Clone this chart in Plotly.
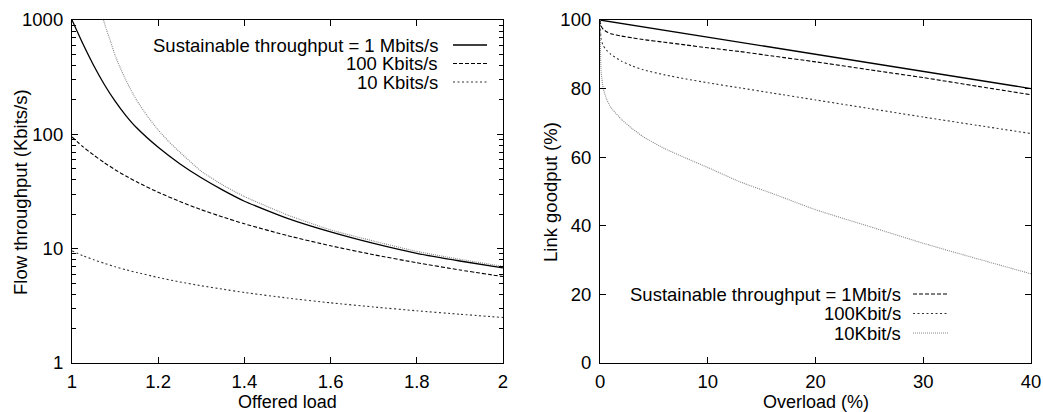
import plotly.graph_objects as go

# ---------------- Left panel data ----------------
load = [1.0, 1.025, 1.05, 1.075, 1.1, 1.125, 1.15, 1.2, 1.25, 1.3, 1.35, 1.4,
        1.5, 1.6, 1.7, 1.8, 1.9, 2.0]
tput_1m = [1000, 622, 402, 273, 195, 146, 114, 77, 55.4, 41.7, 32.5, 26.0,
           18.4, 14.0, 11.1, 9.1, 7.8, 6.8]
tput_100k = [95, 78, 66, 56.5, 49, 43.2, 38.4, 31.1, 25.9, 21.9, 18.9, 16.5,
             13.0, 10.6, 8.85, 7.53, 6.51, 5.7]
tput_10k = [9.56, 8.7, 8.0, 7.44, 6.95, 6.54, 6.19, 5.6, 5.12, 4.74, 4.42, 4.14,
            3.70, 3.36, 3.09, 2.86, 2.67, 2.5]
load_limit = [1.07, 1.08, 1.09, 1.1, 1.11, 1.12, 1.13, 1.14, 1.15, 1.175, 1.2,
              1.225, 1.25, 1.3, 1.35, 1.4, 1.5, 1.6, 1.7, 1.8, 1.9, 2.0]
tput_limit = [1090, 822, 640, 490, 397, 327, 273, 231, 199, 144, 109,
              86, 70, 47.5, 36.0, 28.6, 19.7, 14.6, 11.65, 9.46, 8.07, 7.0]

left_xticks = [1, 1.2, 1.4, 1.6, 1.8, 2]
left_xticklabels = ["1", "1.2", "1.4", "1.6", "1.8", "2"]
left_yticks = [1, 10, 100, 1000]
left_yticklabels = ["1", "10", "100", "1000"]
left_yminor = [2, 3, 4, 5, 6, 7, 8, 9, 20, 30, 40, 50, 60, 70, 80, 90,
               200, 300, 400, 500, 600, 700, 800, 900]
left_legend = ["Sustainable throughput = 1 Mbits/s", "100 Kbits/s", "10 Kbits/s"]

# ---------------- Right panel data ----------------
overload_ideal = [0, 40]
goodput_ideal = [100, 80]
overload = [0, 0.1, 0.3, 0.6, 1, 2, 3, 4, 6, 8, 10, 13, 16, 20, 25, 30, 35, 40]
goodput_1m = [100, 98.3, 97.3, 96.6, 96.0, 95.3, 94.8, 94.3, 93.5, 92.7, 91.9,
              90.8, 89.5, 87.8, 85.5, 83.2, 80.7, 78.2]
goodput_100k = [100, 94.5, 92.5, 91.2, 90.0, 88.0, 86.6, 85.5, 84.0, 82.8, 81.7,
                80.2, 78.7, 76.7, 74.2, 71.7, 69.3, 66.9]
goodput_10k = [100, 85, 80, 77, 74.5, 71.0, 68.3, 66.0, 62.5, 59.7, 57.0,
               52.8, 49.4, 44.7, 39.8, 34.9, 30.4, 26.0]
right_xticks = [0, 10, 20, 30, 40]
right_yticks = [0, 20, 40, 60, 80, 100]
right_legend = ["Sustainable throughput = 1Mbit/s", "100Kbit/s", "10Kbit/s"]

FONT = "Liberation Sans, Arial, Helvetica, sans-serif"
FS = 18.5
FS_TEXT = 18

fig = go.Figure()

def line(x, y, xa, ya, dash, color, width=1.1):
    fig.add_trace(go.Scatter(x=x, y=y, xaxis=xa, yaxis=ya, mode="lines",
                             line=dict(color=color, width=width, dash=dash,
                                       shape="spline", smoothing=0.5),
                             showlegend=False, hoverinfo="skip"))

# left panel
line(load, tput_1m, "x", "y", "solid", "black", 1.3)
line(load, tput_100k, "x", "y", "4px,2px", "black")
line(load, tput_10k, "x", "y", "2px,2.5px", "#333333")
line(load_limit, tput_limit, "x", "y", "1px,1px", "#888888")

# right panel
line(overload_ideal, goodput_ideal, "x2", "y2", "solid", "black", 1.3)
line(overload, goodput_1m, "x2", "y2", "4px,2px", "black")
line(overload, goodput_100k, "x2", "y2", "2px,2.5px", "#333333")
line(overload, goodput_10k, "x2", "y2", "1px,1px", "#888888")

axis_common = dict(showline=True, linecolor="black", linewidth=1.2, mirror="allticks",
                   ticks="inside", ticklen=6, tickcolor="black", showgrid=False,
                   zeroline=False, automargin=False,
                   tickfont=dict(family=FONT, size=FS, color="black"))

L_DOM = [0, 0.4494]
R_DOM = [0.5506, 1]

fig.update_layout(
    template="none",
    width=1043, height=412,
    margin=dict(l=72, r=12, t=20, b=49, autoexpand=False),
    paper_bgcolor="white", plot_bgcolor="white",
    font=dict(family=FONT, size=FS_TEXT, color="black"),
    xaxis=dict(domain=L_DOM, range=[1, 2], tickvals=left_xticks, ticktext=left_xticklabels,
               anchor="y", ticklabelstandoff=2, **axis_common),
    yaxis=dict(domain=[0, 1], type="log", range=[0, 3], tickvals=left_yticks,
               ticktext=left_yticklabels, anchor="x", ticklabelstandoff=4,
               minor=dict(ticks="inside", ticklen=3.5, tickcolor="black",
                          tickvals=left_yminor, showgrid=False),
               **axis_common),
    xaxis2=dict(domain=R_DOM, range=[0, 40], tickvals=right_xticks, anchor="y2",
                ticklabelstandoff=2, **axis_common),
    yaxis2=dict(domain=[0, 1], range=[0, 100], tickvals=right_yticks, anchor="x2",
                ticklabelstandoff=4, **axis_common),
)

def px_to_paper_x(px):
    return (px - 72) / 959.0

def py_to_paper_y(py):
    return (363 - py) / 343.0

annotations = []
# axis titles
annotations.append(dict(text="Offered load", x=px_to_paper_x(287.5), y=py_to_paper_y(401.5),
                        xref="paper", yref="paper", showarrow=False, borderpad=0,
                        xanchor="center", yanchor="middle"))
annotations.append(dict(text="Flow throughput (Kbits/s)", x=px_to_paper_x(20), y=py_to_paper_y(192),
                        xref="paper", yref="paper", showarrow=False, textangle=-90,
                        xanchor="center", yanchor="middle", borderpad=0,
                        font=dict(size=FS)))
annotations.append(dict(text="Overload (%)", x=px_to_paper_x(815.5), y=py_to_paper_y(401.5),
                        xref="paper", yref="paper", showarrow=False, borderpad=0,
                        xanchor="center", yanchor="middle"))
annotations.append(dict(text="Link goodput (%)", x=px_to_paper_x(550), y=py_to_paper_y(192),
                        xref="paper", yref="paper", showarrow=False, textangle=-90,
                        xanchor="center", yanchor="middle", borderpad=0,
                        font=dict(size=FS)))

shapes = []
left_rows = [45, 63.5, 82]
left_styles = [("solid", "black", 1.3), ("4px,2px", "black", 1.1), ("2px,2.5px", "#333333", 1.1)]
for txt, py, (dash, col, w) in zip(left_legend, left_rows, left_styles):
    annotations.append(dict(text=txt, x=px_to_paper_x(439), y=py_to_paper_y(py),
                            xref="paper", yref="paper", showarrow=False, borderpad=0,
                            xanchor="right", yanchor="middle", font=dict(size=FS)))
    shapes.append(dict(type="line", xref="paper", yref="paper",
                       x0=px_to_paper_x(453), x1=px_to_paper_x(487),
                       y0=py_to_paper_y(py), y1=py_to_paper_y(py),
                       line=dict(color=col, width=w, dash=dash)))

right_rows = [294, 313.5, 333]
right_styles = [("4px,2px", "black", 1.1), ("2px,2.5px", "#333333", 1.1), ("1px,1px", "#888888", 1.1)]
for txt, py, (dash, col, w) in zip(right_legend, right_rows, right_styles):
    annotations.append(dict(text=txt, x=px_to_paper_x(902), y=py_to_paper_y(py),
                            xref="paper", yref="paper", showarrow=False, borderpad=0,
                            xanchor="right", yanchor="middle", font=dict(size=FS)))
    shapes.append(dict(type="line", xref="paper", yref="paper",
                       x0=px_to_paper_x(913), x1=px_to_paper_x(948),
                       y0=py_to_paper_y(py), y1=py_to_paper_y(py),
                       line=dict(color=col, width=w, dash=dash)))

fig.update_layout(annotations=annotations, shapes=shapes)
fig.write_html(
    "out.html",
    config={"displayModeBar": False},
    post_script="document.body.style.margin='0';document.body.style.overflow='hidden';",
)
